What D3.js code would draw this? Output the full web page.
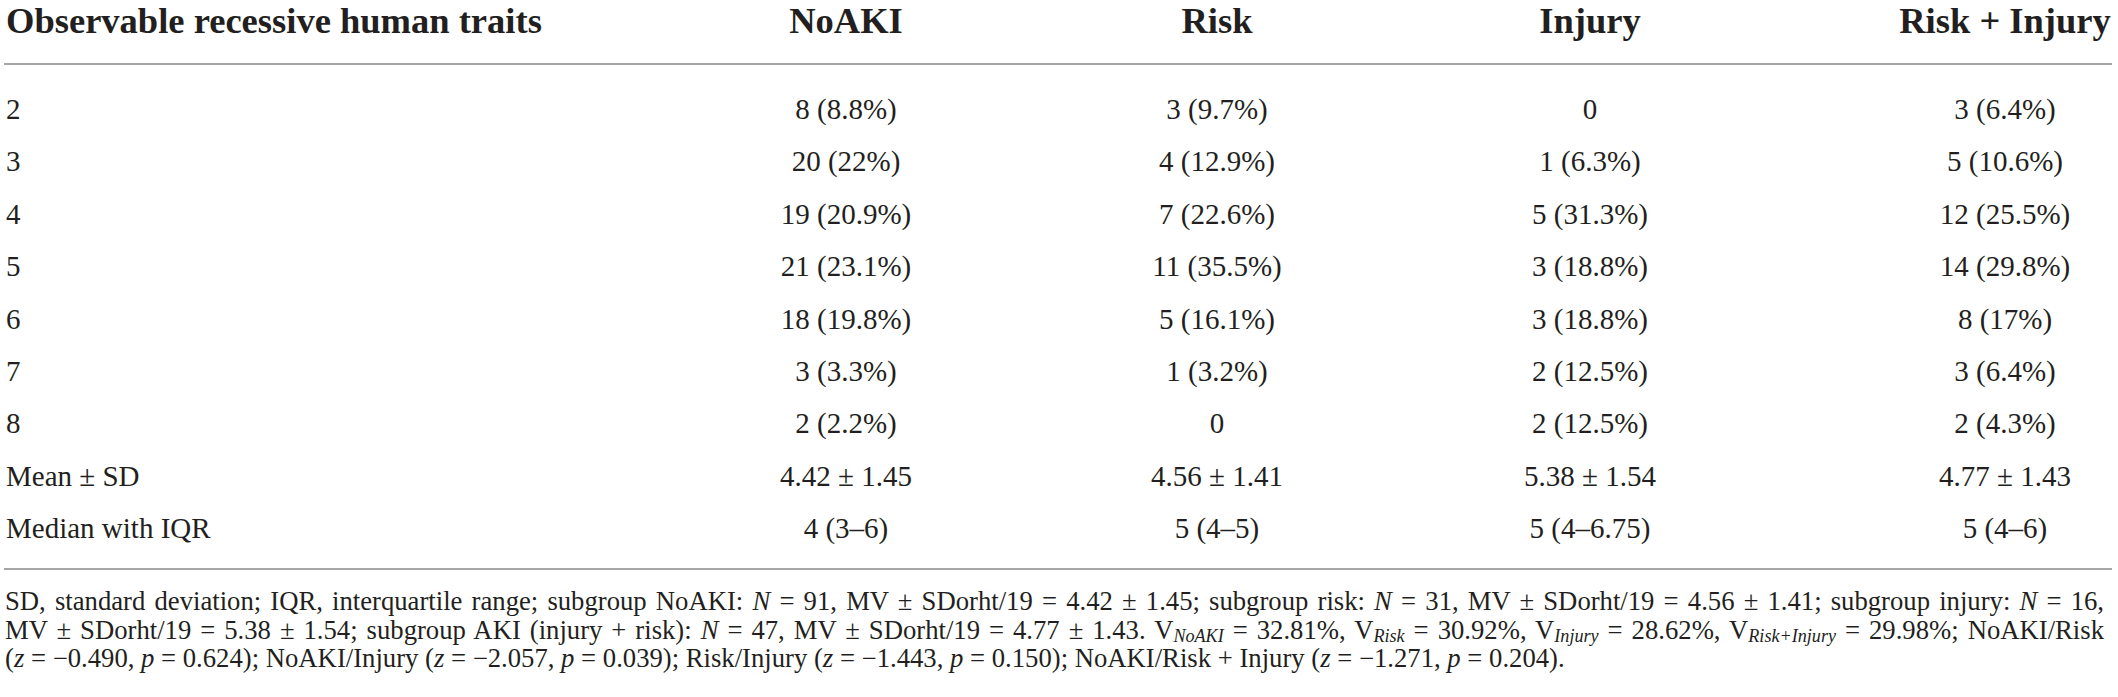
<!DOCTYPE html>
<html>
<head>
<meta charset="utf-8">
<script src="https://cdn.jsdelivr.net/npm/d3@7/dist/d3.min.js"></script>
<style>
  html, body { margin: 0; padding: 0; background: #fff; }
  svg { display: block; }
  text { font-family: "Liberation Serif", "Times New Roman", serif; fill: #231f20; }
</style>
</head>
<body>
<svg id="chart" width="2118" height="697"></svg>
<script>
// ---- data ----
const headerLabel = "Observable recessive human traits";
const columns = ["NoAKI", "Risk", "Injury", "Risk + Injury"];
const rowLabels = ["2", "3", "4", "5", "6", "7", "8", "Mean ± SD", "Median with IQR"];
const noAKI = ["8 (8.8%)", "20 (22%)", "19 (20.9%)", "21 (23.1%)", "18 (19.8%)", "3 (3.3%)", "2 (2.2%)", "4.42 ± 1.45", "4 (3–6)"];
const risk = ["3 (9.7%)", "4 (12.9%)", "7 (22.6%)", "11 (35.5%)", "5 (16.1%)", "1 (3.2%)", "0", "4.56 ± 1.41", "5 (4–5)"];
const injury = ["0", "1 (6.3%)", "5 (31.3%)", "3 (18.8%)", "3 (18.8%)", "2 (12.5%)", "2 (12.5%)", "5.38 ± 1.54", "5 (4–6.75)"];
const riskInjury = ["3 (6.4%)", "5 (10.6%)", "12 (25.5%)", "14 (29.8%)", "8 (17%)", "3 (6.4%)", "2 (4.3%)", "4.77 ± 1.43", "5 (4–6)"];
const seriesByColumn = [noAKI, risk, injury, riskInjury];

// footnote: segments [text, style]  style: "" normal, "i" italic, "s" italic subscript
const footLine1 = [
  ["SD, standard deviation; IQR, interquartile range; subgroup NoAKI: ", ""], ["N", "i"],
  [" = 91, MV ± SDorht/19 = 4.42 ± 1.45; subgroup risk: ", ""], ["N", "i"],
  [" = 31, MV ± SDorht/19 = 4.56 ± 1.41; subgroup injury: ", ""], ["N", "i"], [" = 16,", ""]
];
const footLine2 = [
  ["MV ± SDorht/19 = 5.38 ± 1.54; subgroup AKI (injury + risk): ", ""], ["N", "i"],
  [" = 47, MV ± SDorht/19 = 4.77 ± 1.43. V", ""], ["NoAKI", "s"], [" = 32.81%, V", ""], ["Risk", "s"],
  [" = 30.92%, V", ""], ["Injury", "s"], [" = 28.62%, V", ""], ["Risk+Injury", "s"], [" = 29.98%; NoAKI/Risk", ""]
];
const footLine3 = [
  ["(", ""], ["z", "i"], [" = −0.490, ", ""], ["p", "i"], [" = 0.624); NoAKI/Injury (", ""], ["z", "i"],
  [" = −2.057, ", ""], ["p", "i"], [" = 0.039); Risk/Injury (", ""], ["z", "i"], [" = −1.443, ", ""], ["p", "i"],
  [" = 0.150); NoAKI/Risk + Injury (", ""], ["z", "i"], [" = −1.271, ", ""], ["p", "i"], [" = 0.204).", ""]
];
const footLines = [footLine1, footLine2, footLine3];

// ---- layout ----
const svg = d3.select("#chart");
const leftX = 6;
const headerBaseline = 33;
const headerRuleY = 64;
const bottomRuleY = 569;
const footBaselines = [610, 639, 667];
const footJustify = [true, true, false];
const footRight = 2104;
const footLastRight = 1565;

const x = d3.scaleOrdinal().domain(columns).range([846, 1217, 1590, 2005]);
const y = d3.scalePoint().domain(rowLabels).range([110, 529]);

function fitSize(str, weight, target) {
  const t = svg.append("text").attr("font-size", 100).attr("font-weight", weight).text(str);
  const w = t.node().getComputedTextLength();
  t.remove();
  return 100 * target / w;
}
const headSize = fitSize(headerLabel, "bold", 536);
const bodySize = fitSize("4.42 ± 1.45", "normal", 132);

function buildFoot(segs, size, xx, yy) {
  const t = svg.append("text").attr("x", xx).attr("y", yy).attr("font-size", size);
  let shifted = false;
  const shift = Math.round(size * 0.12);
  segs.forEach(([str, st]) => {
    const ts = t.append("tspan").text(str);
    if (st === "i") ts.attr("font-style", "italic");
    if (st === "s") {
      ts.attr("font-style", "italic").attr("font-size", size * 0.68).attr("dy", shift);
      shifted = true;
    } else if (shifted) {
      ts.attr("dy", -shift);
      shifted = false;
    }
  });
  return t;
}
// fit footnote size to the unjustified last line
const probe = buildFoot(footLine3, 100, 0, -100);
const footSize = 100 * (footLastRight - (leftX - 1)) / probe.node().getComputedTextLength();
probe.remove();

// rules
svg.append("line").attr("x1", 4).attr("x2", 2112).attr("y1", headerRuleY).attr("y2", headerRuleY)
  .attr("stroke", "#a6a6a6").attr("stroke-width", 2);
svg.append("line").attr("x1", 4).attr("x2", 2112).attr("y1", bottomRuleY).attr("y2", bottomRuleY)
  .attr("stroke", "#a6a6a6").attr("stroke-width", 2);

// header
svg.append("text").attr("x", leftX).attr("y", headerBaseline)
  .attr("font-size", headSize).attr("font-weight", "bold").text(headerLabel);
svg.selectAll("text.colhead").data(columns).join("text")
  .attr("class", "colhead")
  .attr("x", d => x(d)).attr("y", headerBaseline)
  .attr("text-anchor", "middle")
  .attr("font-size", headSize).attr("font-weight", "bold")
  .text(d => d);

// row labels
const bodyOffset = 9;
svg.selectAll("text.rowlab").data(rowLabels).join("text")
  .attr("class", "rowlab")
  .attr("x", leftX).attr("y", d => y(d) + bodyOffset)
  .attr("font-size", bodySize)
  .text(d => d);

// cells
columns.forEach((c, ci) => {
  svg.selectAll("text.cell" + ci).data(seriesByColumn[ci]).join("text")
    .attr("class", "cell" + ci)
    .attr("x", x(c))
    .attr("y", (d, i) => y(rowLabels[i]) + bodyOffset)
    .attr("text-anchor", "middle")
    .attr("font-size", bodySize)
    .text(d => d);
});

// footnote
footLines.forEach((segs, li) => {
  const t = buildFoot(segs, footSize, leftX - 1, footBaselines[li]);
  if (footJustify[li]) {
    const natural = t.node().getComputedTextLength();
    const full = segs.map(s => s[0]).join("");
    const spaces = (full.match(/ /g) || []).length;
    const target = footRight - (leftX - 1);
    t.attr("word-spacing", (target - natural) / spaces);
  }
});
</script>
</body>
</html>
